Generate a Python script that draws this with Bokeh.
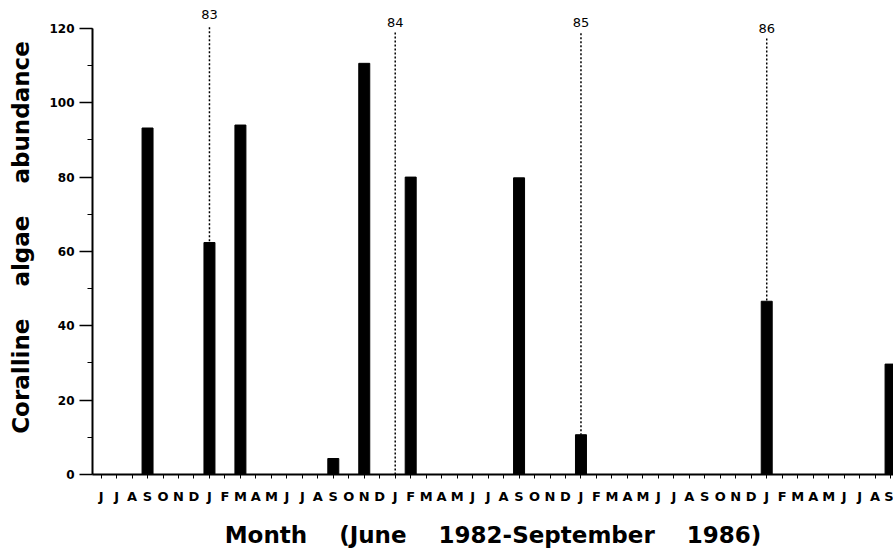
from bokeh.plotting import figure
from bokeh.models import Range1d, FixedTicker, SingleIntervalTicker, ColumnDataSource
from bokeh.core.properties import value
from bokeh.embed import file_html
from bokeh.resources import INLINE

# Month letters, June 1982 - September 1986
months = ["J", "J", "A", "S", "O", "N", "D",
          "J", "F", "M", "A", "M", "J", "J", "A", "S", "O", "N", "D",
          "J", "F", "M", "A", "M", "J", "J", "A", "S", "O", "N", "D",
          "J", "F", "M", "A", "M", "J", "J", "A", "S", "O", "N", "D",
          "J", "F", "M", "A", "M", "J", "J", "A", "S"]

# Coralline algae abundance per month
abundance = [0, 0, 0, 93.2, 0, 0, 0,
             62.4, 0, 94.0, 0, 0, 0, 0, 0, 4.3, 0, 110.6, 0,
             0, 80.0, 0, 0, 0, 0, 0, 0, 79.8, 0, 0, 0,
             10.7, 0, 0, 0, 0, 0, 0, 0, 0, 0, 0, 0,
             46.6, 0, 0, 0, 0, 0, 0, 0, 29.7]

# Year markers (January of each year)
year_labels = ["83", "84", "85", "86"]
year_month = [7, 19, 31, 43]
year_label_y = [123.8, 121.6, 121.6, 120.0]
year_line_top = [120.3, 118.9, 118.7, 117.3]

x = list(range(len(months)))
src = ColumnDataSource(dict(x=x, top=abundance))

p = figure(width=893, height=550, output_backend="svg", toolbar_location=None,
           x_range=Range1d(-0.556, 51.19), y_range=Range1d(0, 127.5),
           min_border_left=92, min_border_right=0, min_border_top=0,
           min_border_bottom=74)
p.outline_line_color = None
p.xgrid.visible = False
p.ygrid.visible = False
p.background_fill_color = "white"

p.vbar(x="x", top="top", bottom=0, width=0.71, source=src,
       fill_color="black", line_color="black")

bottoms = [abundance[i] for i in year_month]
p.segment(x0=year_month, y0=year_line_top, x1=year_month, y1=bottoms,
          line_color="black", line_width=1.5, line_dash="2 2")
p.text(x=year_month, y=year_label_y, text=year_labels,
       text_font=value("DejaVu Sans"), text_font_size="13px",
       text_align="center", text_baseline="middle", text_color="black")

# Y axis
ya = p.yaxis[0]
ya.bounds = (0, 120)
ya.ticker = SingleIntervalTicker(interval=20, num_minor_ticks=2)
ya.major_tick_out = 13
ya.major_tick_in = 0
ya.minor_tick_out = 5
ya.minor_tick_in = 0
ya.axis_line_width = 2
ya.major_tick_line_width = 1.5
ya.major_label_standoff = 5
ya.major_label_text_font = "DejaVu Sans"
ya.major_label_text_font_style = "bold"
ya.major_label_text_font_size = "12px"
ya.major_label_text_color = "black"
ya.axis_label = "Coralline\u00a0\u00a0\u00a0\u00a0algae\u00a0\u00a0\u00a0\u00a0abundance"
ya.axis_label_text_font = "DejaVu Sans"
ya.axis_label_text_font_style = "bold"
ya.axis_label_text_font_size = "23px"
ya.axis_label_text_color = "black"
ya.axis_label_standoff = 12

# X axis
xa = p.xaxis[0]
xa.ticker = FixedTicker(ticks=x)
xa.major_label_overrides = {i: m for i, m in enumerate(months)}
xa.major_tick_out = 4
xa.major_tick_in = 0
xa.minor_tick_out = 0
xa.minor_tick_in = 0
xa.axis_line_width = 2
xa.major_label_standoff = 10
xa.major_label_text_font = "DejaVu Sans"
xa.major_label_text_font_style = "bold"
xa.major_label_text_font_size = "13px"
xa.major_label_text_color = "black"
xa.axis_label = "Month\u00a0\u00a0\u00a0\u00a0(June\u00a0\u00a0\u00a0\u00a01982-September\u00a0\u00a0\u00a0\u00a01986)"
xa.axis_label_text_font = "DejaVu Sans"
xa.axis_label_text_font_style = "bold"
xa.axis_label_text_font_size = "23px"
xa.axis_label_text_color = "black"
xa.axis_label_standoff = 15

open("out.html", "w").write(file_html(p, INLINE))
